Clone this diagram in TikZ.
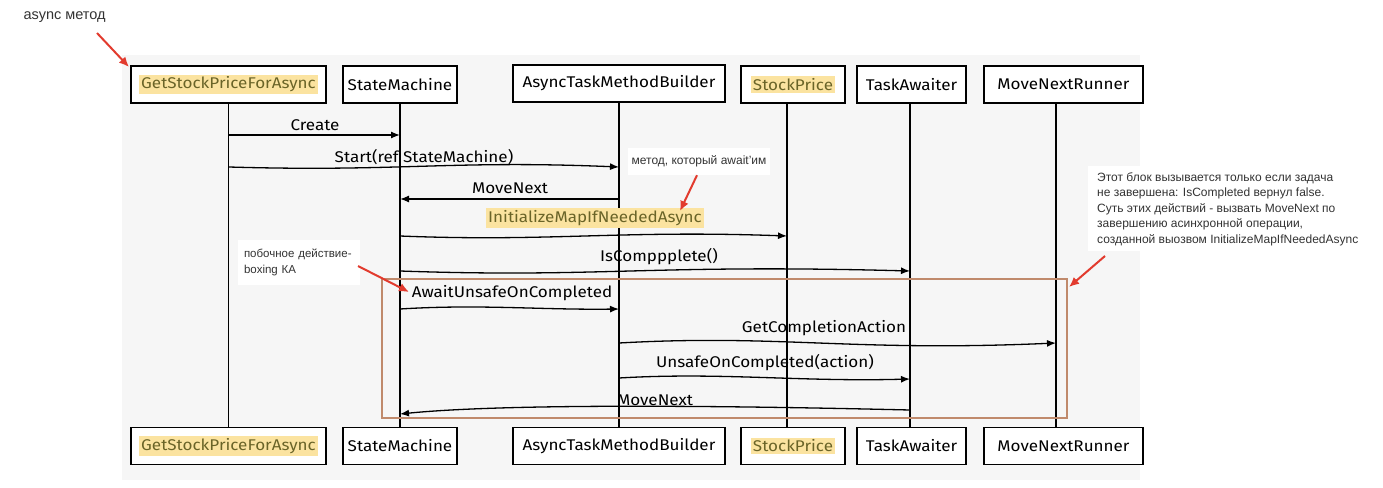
\documentclass[tikz,border=0pt]{standalone}
\usepackage{fontspec}
\setmainfont{Liberation Sans}
\newfontfamily\hand{Fira Sans}[FakeStretch=1.1]
\usetikzlibrary{arrows.meta}
\definecolor{panel}{HTML}{F6F6F6}
\definecolor{hlyellow}{HTML}{FBE3A0}
\definecolor{hltext}{HTML}{6A6428}
\definecolor{boxbrown}{HTML}{C08A6C}
\definecolor{redarr}{HTML}{E23B2E}
\definecolor{notetext}{HTML}{333333}
\newcommand{\hlt}[1]{{\setlength{\fboxsep}{2pt}\colorbox{hlyellow}{\color{hltext}#1}}}
\begin{document}
\begin{tikzpicture}[x=1pt,y=-1pt,
  actor/.style={draw,line width=1.4pt,fill=white,minimum height=37pt,inner sep=0pt,
    font=\hand\fontsize{15.5}{17}\selectfont},
  life/.style={line width=1.3pt},
  msg/.style={line width=1.3pt,-{Latex[length=9pt,width=7pt]}},
  lbl/.style={font=\hand\fontsize{15.5}{17}\selectfont,inner sep=1pt},
  note/.style={fill=white,font=\fontsize{12}{15.5}\selectfont,text=notetext,align=left,inner sep=0pt},
  redarrow/.style={draw=redarr,line width=2pt,-{Latex[length=10pt,width=9pt]}}
]
\useasboundingbox (0,0) rectangle (1383,487);
\fill[panel] (122,55) rectangle (1140,480);

% top actors
\node[actor,minimum width=195pt] (h1) at (228.5,84.5) {\hlt{GetStockPriceForAsync}};
\node[actor,minimum width=114pt] (h2) at (400,84.5) {StateMachine};
\node[actor,minimum width=212pt] (h3) at (619,83.5) {AsyncTaskMethodBuilder};
\node[actor,minimum width=104pt] (h4) at (793,84.5) {\hlt{StockPrice}};
\node[actor,minimum width=109pt] (h5) at (911.5,84.5) {TaskAwaiter};
\node[actor,minimum width=159pt] (h6) at (1063.5,84.5) {MoveNextRunner};
% bottom actors
\node[actor,minimum width=195pt] (b1) at (228.5,446) {\hlt{GetStockPriceForAsync}};
\node[actor,minimum width=114pt] (b2) at (400,446) {StateMachine};
\node[actor,minimum width=212pt] (b3) at (619,446) {AsyncTaskMethodBuilder};
\node[actor,minimum width=104pt] (b4) at (793,446) {\hlt{StockPrice}};
\node[actor,minimum width=109pt] (b5) at (911.5,446) {TaskAwaiter};
\node[actor,minimum width=159pt] (b6) at (1063.5,446) {MoveNextRunner};

% lifelines
\draw[life] (h1.south) -- (b1.north);
\draw[life] (h2.south) -- (b2.north);
\draw[life] (h3.south) -- (b3.north);
\draw[life] ([xshift=-6pt]h4.south) -- ([xshift=-6pt]b4.north);
\draw[life] ([xshift=-1.5pt]h5.south) -- ([xshift=-1.5pt]b5.north);
\draw[life] ([xshift=-7.5pt]h6.south) -- ([xshift=-7.5pt]b6.north);

% messages
\coordinate (m1a) at (229,135); \coordinate (m1b) at (400,135);
\draw[msg] (m1a) -- (m1b);
\node[lbl] (t1) at (315,125) {Create};

\coordinate (m2a) at (229,167); \coordinate (m2b) at (619,167);
\draw[msg] (m2a) .. controls (400,172) and (450,160) .. (m2b);
\node[lbl] (t2) at (424,157) {Start(ref StateMachine)};

\coordinate (m3a) at (619,199); \coordinate (m3b) at (400,199);
\draw[msg] (m3a) -- (m3b);
\node[lbl] (t3) at (510,188) {MoveNext};

\node[lbl] (t4) at (595,218) {\hlt{InitializeMapIfNeededAsync}};
\coordinate (m4a) at (400,236); \coordinate (m4b) at (787,236);
\draw[msg] (m4a) .. controls (550,242) and (620,230) .. (m4b);

\node[lbl] (t5) at (659,257) {IsComppplete()};
\coordinate (m5a) at (400,271); \coordinate (m5b) at (910,271);
\draw[msg] (m5a) .. controls (600,278) and (650,264) .. (m5b);

\node[lbl] (t6) at (512,293) {AwaitUnsafeOnCompleted};
\coordinate (m6a) at (400,309); \coordinate (m6b) at (619,309);
\draw[msg] (m6a) .. controls (480,304) and (540,310) .. (m6b);

\node[lbl] (t7) at (824,328) {GetCompletionAction};
\coordinate (m7a) at (619,343); \coordinate (m7b) at (1056,343);
\draw[msg] (m7a) .. controls (780,334) and (850,352) .. (m7b);

\node[lbl] (t8) at (765,363) {UnsafeOnCompleted(action)};
\coordinate (m8a) at (619,378); \coordinate (m8b) at (910,379);
\draw[msg] (m8a) .. controls (720,372) and (800,382) .. (m8b);

\node[lbl] (t9) at (655,400) {MoveNext};
\coordinate (m9a) at (910,410); \coordinate (m9b) at (400,414);
\draw[msg] (m9a) .. controls (700,405) and (500,404) .. (m9b);

% orange block
\draw[boxbrown,line width=1.5pt] (382,279) rectangle (1067,418);

% annotations
\node[font=\fontsize{14.5}{16}\selectfont,text=notetext,anchor=west] (a1) at (20,17) {async метод};
\coordinate (a1s) at (97,33); \coordinate (a1e) at (129,67);
\draw[redarrow] (a1s) -- (a1e);

\node[note,minimum width=142pt,minimum height=27pt,align=center] (a2) at (699,161.5) {метод, который await'им};
\coordinate (a2e) at (680,211);
\draw[redarrow] ([xshift=-2pt]a2.south) -- (a2e);

\node[note,minimum width=122pt,minimum height=45pt,text width=110pt,font=\fontsize{11.5}{16.5}\selectfont] (a3) at (299,262.5) {побочное действие-\\boxing КА};
\coordinate (a3s) at (358,266); \coordinate (a3e) at (409,292);
\draw[redarrow] (a3s) -- (a3e);

\node[note,anchor=north west,inner xsep=9pt,inner ysep=6pt] (a4) at (1088,166) {Этот блок вызывается только если задача\\не завершена: IsCompleted вернул false.\\Суть этих действий - вызвать MoveNext по\\завершению асинхронной операции,\\созданной выозвом InitializeMapIfNeededAsync};
\coordinate (a4s) at (1105,256); \coordinate (a4e) at (1069,287);
\draw[redarrow] (a4s) -- (a4e);
\end{tikzpicture}
\end{document}
